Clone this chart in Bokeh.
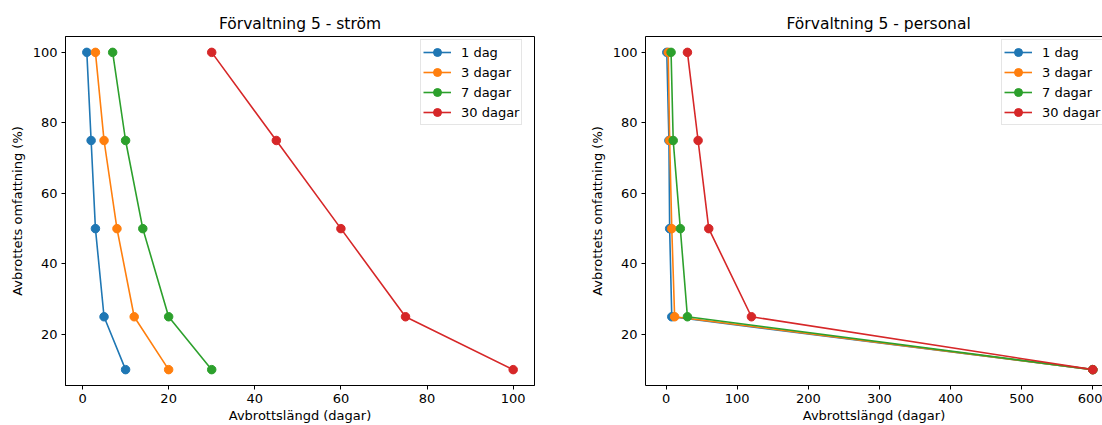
from bokeh.plotting import figure
from bokeh.layouts import row
from bokeh.models import Range1d, FixedTicker, LinearAxis, Title
from bokeh.embed import file_html
from bokeh.resources import INLINE

# --- data ---
omfattning = [100, 75, 50, 25, 10]          # Avbrottets omfattning (%)
series_labels = ["1 dag", "3 dagar", "7 dagar", "30 dagar"]
colors = ["#1f77b4", "#ff7f0e", "#2ca02c", "#d62728"]

strom_1 = [1, 2, 3, 5, 10]
strom_3 = [3, 5, 8, 12, 20]
strom_7 = [7, 10, 14, 20, 30]
strom_30 = [30, 45, 60, 75, 100]

personal_1 = [1, 4, 5, 8, 600]
personal_3 = [3, 5, 8, 12, 600]
personal_7 = [7, 10, 20, 30, 600]
personal_30 = [30, 45, 60, 120, 600]

y_ticks = [20, 40, 60, 80, 100]
x_ticks_strom = [0, 20, 40, 60, 80, 100]
x_ticks_personal = [0, 100, 200, 300, 400, 500, 600]

FONT = "DejaVu Sans"


def style(p, xticks):
    p.xgrid.visible = False
    p.ygrid.visible = False
    p.background_fill_color = "white"
    p.border_fill_color = "white"
    xa = p.below[0]
    ya = p.left[0]
    for ax in (xa, ya):
        ax.axis_label_text_font = FONT
        ax.axis_label_text_font_size = "13px"
        ax.axis_label_text_font_style = "normal"
        ax.axis_label_text_color = "black"
        ax.major_label_text_font = FONT
        ax.major_label_text_font_size = "13px"
        ax.major_label_text_color = "black"
        ax.axis_line_color = "black"
        ax.major_tick_line_color = "black"
        ax.minor_tick_line_color = None
        ax.major_tick_out = 4
        ax.major_tick_in = 0
        ax.major_label_standoff = 4
    xa.ticker = FixedTicker(ticks=xticks)
    ya.ticker = FixedTicker(ticks=y_ticks)
    xa.axis_label = "Avbrottslängd (dagar)"
    ya.axis_label = "Avbrottets omfattning (%)"
    xa.axis_label_standoff = 2
    ya.axis_label_standoff = 5


def add_series(p, data):
    for vals, lab, col in zip(data, series_labels, colors):
        p.line(vals, omfattning, line_color=col, line_width=1.6, legend_label=lab)
        p.scatter(vals, omfattning, size=8.5, fill_color=col, line_color=col, legend_label=lab)


def style_legend(p, loc):
    lg = p.legend[0]
    lg.location = loc
    lg.label_text_font = FONT
    lg.label_text_font_size = "13px"
    lg.label_text_color = "black"
    lg.glyph_width = 28
    lg.glyph_height = 20
    lg.label_height = 20
    lg.label_standoff = 10
    lg.spacing = 0
    lg.padding = 2
    lg.margin = 0
    lg.border_line_color = "#cccccc"
    lg.background_fill_alpha = 0.8


def make_title(text, align, offset):
    return Title(text=text, align=align, offset=offset,
                 text_font=FONT, text_font_size="15.5px", text_font_style="normal",
                 text_color="black", standoff=8)


p1 = figure(width=580, height=425, output_backend="svg", toolbar_location=None,
            x_range=Range1d(-3.95, 104.95), y_range=Range1d(5.5, 104.5),
            min_border_left=65, min_border_right=46, min_border_top=36, min_border_bottom=40)
style(p1, x_ticks_strom)
p1.outline_line_color = "black"
p1.add_layout(make_title("Förvaltning 5 - ström", "center", 0), "above")
add_series(p1, [strom_1, strom_3, strom_7, strom_30])
style_legend(p1, (355, 260))

p2 = figure(width=522, height=425, output_backend="svg", toolbar_location=None,
            x_range=Range1d(-28.95, 613.6), y_range=Range1d(5.5, 104.5),
            min_border_left=65, min_border_right=0, min_border_top=36, min_border_bottom=40)
style(p2, x_ticks_personal)
p2.outline_line_color = None
top_axis = LinearAxis(ticker=FixedTicker(ticks=[]), axis_line_color="black",
                      major_tick_line_color=None, minor_tick_line_color=None,
                      major_label_text_font_size="0px", major_tick_out=0, major_tick_in=0,
                      major_label_standoff=0)
p2.add_layout(top_axis, "above")
p2.add_layout(make_title("Förvaltning 5 - personal", "left", 141), "above")
add_series(p2, [personal_1, personal_3, personal_7, personal_30])
style_legend(p2, (356, 260))

layout = row(p1, p2)
open("out.html", "w").write(file_html(layout, INLINE))
